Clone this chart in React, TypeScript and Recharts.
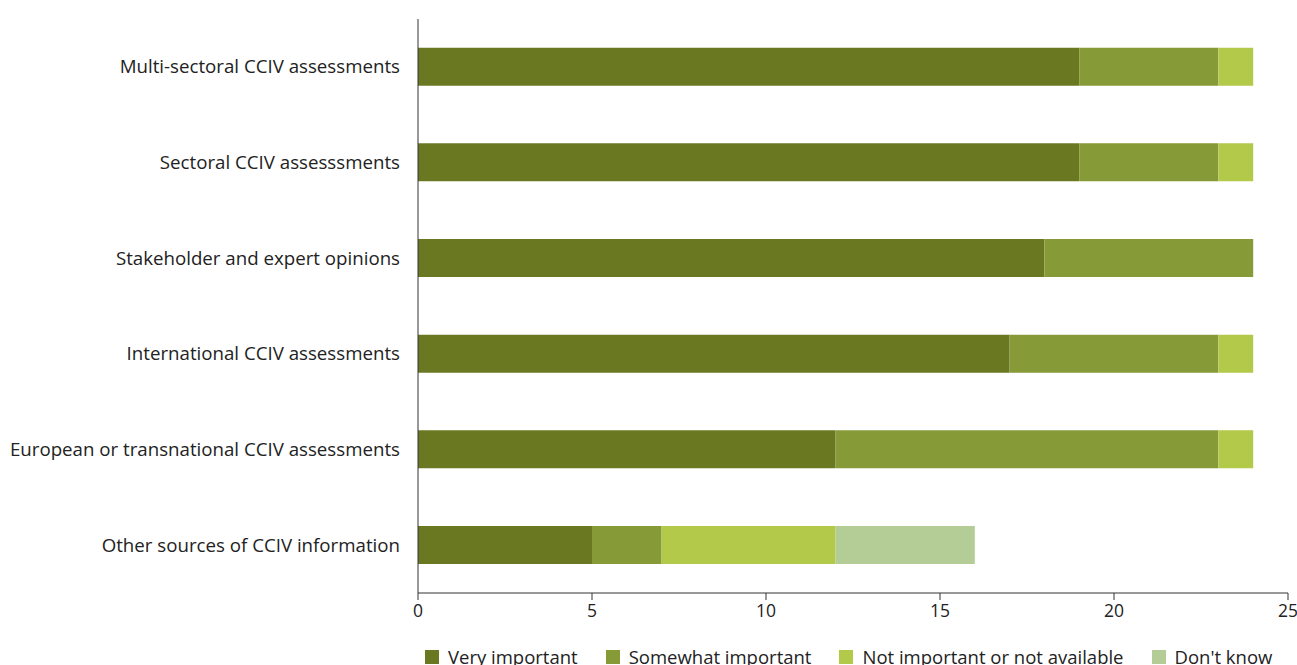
import { Bar, BarChart, Legend, XAxis, YAxis } from "recharts";

const categories = [
  "Multi-sectoral CCIV assessments",
  "Sectoral CCIV assesssments",
  "Stakeholder and expert opinions",
  "International CCIV assessments",
  "European or transnational CCIV assessments",
  "Other sources of CCIV information",
];
const veryImportant = [19, 19, 18, 17, 12, 5];
const somewhatImportant = [4, 4, 6, 6, 11, 2];
const notImportant = [1, 1, 0, 1, 1, 5];
const dontKnow = [0, 0, 0, 0, 0, 4];
const xTicks = [0, 5, 10, 15, 20, 25];

const series = [
  { key: "very", name: "Very important", color: "#6b7822" },
  { key: "somewhat", name: "Somewhat important", color: "#879a38" },
  { key: "notImp", name: "Not important or not available", color: "#b3c94a" },
  { key: "dontKnow", name: "Don't know", color: "#b4cc96" },
];

const data = categories.map((name, i) => ({
  name,
  very: veryImportant[i],
  somewhat: somewhatImportant[i],
  notImp: notImportant[i],
  dontKnow: dontKnow[i],
}));

const font = "'Open Sans', 'Noto Sans', sans-serif";

function LegendRow() {
  return (
    <div style={{ display: "flex", marginLeft: 425, height: 24, alignItems: "center" }}>
      {series.map((s) => (
        <div key={s.key} style={{ display: "flex", alignItems: "center", marginRight: 28 }}>
          <span style={{ width: 14, height: 14, background: s.color, display: "inline-block", marginRight: 9 }} />
          <span style={{ fontSize: 18.5, color: "#222", fontFamily: font, whiteSpace: "nowrap", lineHeight: "24px" }}>
            {s.name}
          </span>
        </div>
      ))}
    </div>
  );
}

export default function App() {
  return (
    <div style={{ position: "fixed", inset: 0, overflow: "hidden", background: "#fff" }}>
      <BarChart
        width={1297}
        height={669}
        data={data}
        layout="vertical"
        barCategoryGap="30%"
        margin={{ top: 19, right: 9, left: 0, bottom: 0 }}
        style={{ fontFamily: font }}
      >
        <XAxis
          type="number"
          domain={[0, 25]}
          ticks={xTicks}
          height={52}
          tick={{ fill: "#222", fontSize: 17.5 }}
          tickSize={7}
          tickMargin={5}
          axisLine={{ stroke: "#333" }}
          tickLine={{ stroke: "#333" }}
        />
        <YAxis
          type="category"
          dataKey="name"
          width={418}
          tick={{ fill: "#222", fontSize: 18.7 }}
          tickLine={false}
          tickSize={0}
          tickMargin={18}
          axisLine={{ stroke: "#333" }}
        />
        <Legend verticalAlign="bottom" content={() => <LegendRow />} />
        {series.map((s) => (
          <Bar
            key={s.key}
            dataKey={s.key}
            name={s.name}
            stackId="a"
            fill={s.color}
            isAnimationActive={false}
          />
        ))}
      </BarChart>
    </div>
  );
}
